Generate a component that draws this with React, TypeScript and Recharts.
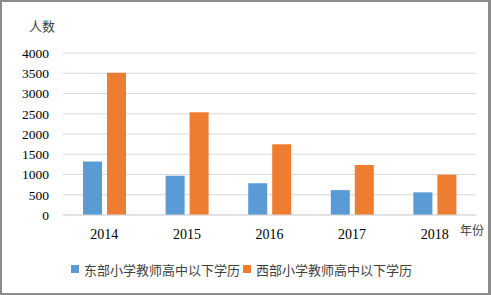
import React from 'react';
import { BarChart, Bar, CartesianGrid, XAxis, YAxis, Legend, Label } from 'recharts';

const years = ['2014', '2015', '2016', '2017', '2018'];
const eastTeachers = [1320, 970, 785, 615, 560];
const westTeachers = [3510, 2540, 1750, 1235, 995];
const yTicks = [0, 500, 1000, 1500, 2000, 2500, 3000, 3500, 4000];

const seriesNames = ['东部小学教师高中以下学历', '西部小学教师高中以下学历'];
const colors = ['#5B9BD5', '#ED7D31'];

const data = years.map((year, i) => ({
  year,
  east: eastTeachers[i],
  west: westTeachers[i],
}));

const serif = '"Liberation Serif", "Times New Roman", serif';
const cjk = '"Noto Sans CJK SC", sans-serif';

const LegendContent = () => (
  <div style={{ position: 'relative', height: 40, fontFamily: cjk, fontSize: 13, color: '#404040' }}>
    {seriesNames.map((name, i) => (
      <div
        key={name}
        style={{
          position: 'absolute',
          left: i === 0 ? 71 : 243,
          top: 5,
          height: 18,
          display: 'flex',
          alignItems: 'center',
          whiteSpace: 'nowrap',
        }}
      >
        <span style={{ width: 8, height: 8, background: colors[i], marginRight: 5, display: 'inline-block' }} />
        <span>{name}</span>
      </div>
    ))}
  </div>
);

const App: React.FC = () => {
  return (
    <div style={{ position: 'absolute', left: 0, top: 0, width: 491, height: 295, background: '#fff' }}>
      <BarChart
        width={491}
        height={295}
        data={data}
        margin={{ top: 53, right: 15, bottom: 0, left: 0 }}
        barSize={19}
        barGap={5}
      >
        <CartesianGrid vertical={false} stroke="#d9d9d9" />
        <XAxis
          dataKey="year"
          height={40}
          axisLine={{ stroke: '#d9d9d9' }}
          tickLine={false}
          tickMargin={8}
          tick={{ fontFamily: serif, fontSize: 14, fill: '#000' }}
        >
          <Label
            value="年份"
            position="insideTopRight"
            offset={0}
            dx={8}
            dy={11}
            style={{ fontFamily: cjk, fontSize: 12, fill: '#404040' }}
          />
        </XAxis>
        <YAxis
          width={63}
          domain={[0, 4000]}
          ticks={yTicks}
          interval={0}
          axisLine={false}
          tickLine={false}
          tickMargin={8}
          tick={{ fontFamily: serif, fontSize: 13.5, fill: '#000' }}
        />
        <Legend verticalAlign="bottom" height={40} content={<LegendContent />} wrapperStyle={{ bottom: 0 }} />
        <Bar dataKey="east" name={seriesNames[0]} fill={colors[0]} isAnimationActive={false} />
        <Bar dataKey="west" name={seriesNames[1]} fill={colors[1]} isAnimationActive={false} />
        <text x={42} y={31} textAnchor="middle" style={{ fontFamily: cjk, fontSize: 13, fill: '#404040' }}>
          人数
        </text>
      </BarChart>
      <div
        style={{
          position: 'absolute',
          inset: 0,
          border: '2px solid #8c8c8c',
          borderRightWidth: 3,
          pointerEvents: 'none',
        }}
      />
    </div>
  );
};

export default App;
